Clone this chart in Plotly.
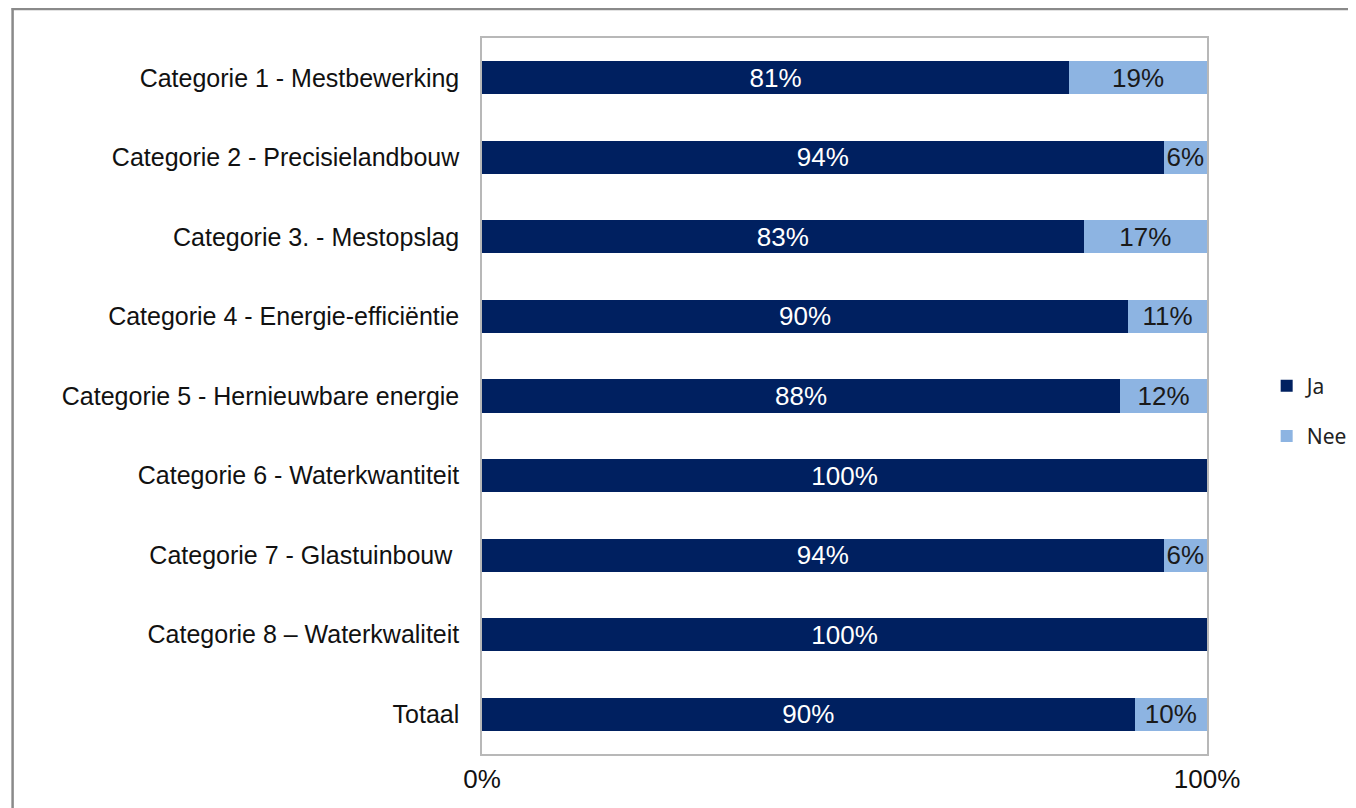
import plotly.graph_objects as go

categories = [
    "Categorie 1 - Mestbewerking",
    "Categorie 2 - Precisielandbouw",
    "Categorie 3. - Mestopslag",
    "Categorie 4 - Energie-efficiëntie",
    "Categorie 5 - Hernieuwbare energie",
    "Categorie 6 - Waterkwantiteit",
    "Categorie 7 - Glastuinbouw ",
    "Categorie 8 – Waterkwaliteit",
    "Totaal",
]
ja = [81, 94, 83, 90, 88, 100, 94, 100, 90]
nee = [19, 6, 17, 11, 12, 0, 6, 0, 10]
x_ticks = [0, 100]
x_tick_labels = ["0%", "100%"]

FONT = "Liberation Sans, Arial, sans-serif"
DARK = "#002060"
LIGHT = "#8DB4E2"

def labels(vals):
    return [f"{v}%" if v > 0 else "" for v in vals]

fig = go.Figure()
fig.add_trace(go.Bar(
    y=categories, x=ja, name="Ja", orientation="h",
    marker=dict(color=DARK, line=dict(width=0)),
    text=labels(ja), textposition="inside", insidetextanchor="middle",
    textangle=0, constraintext="none",
    textfont=dict(family=FONT, size=26, color="white"),
    legendgroup="ja", hoverinfo="skip",
))
fig.add_trace(go.Bar(
    y=categories, x=nee, name="Nee", orientation="h",
    marker=dict(color=LIGHT, line=dict(width=0)),
    text=labels(nee), textposition="inside", insidetextanchor="middle",
    textangle=0, constraintext="none",
    textfont=dict(family=FONT, size=26, color="#1a1a1a"),
    legendgroup="nee", hoverinfo="skip",
))

# target pixel geometry of the plot area (in the screenshot)
L, R, T, B = 481, 1210, 37, 753
W, H = 1356, 808
OFF = 7  # page offset of the figure in the screenshot

def px(xp):
    return (xp - L) / (R - L)

def py(yp):
    return (B - yp) / (B - T)

fig.update_layout(
    width=W, height=H,
    barmode="stack", barnorm="percent", bargap=0.585,
    margin=dict(l=L - OFF, r=W - R + OFF, t=T - OFF, b=H - B + OFF, pad=0),
    plot_bgcolor="white", paper_bgcolor="white",
    font=dict(family=FONT, size=22, color="#111111"),
    showlegend=True,
    legend=dict(
        x=px(1270), y=py(410), xanchor="left", yanchor="middle",
        traceorder="grouped", tracegroupgap=20,
        font=dict(family="Noto Sans, sans-serif", size=21, color="#222222"),
        bgcolor="rgba(0,0,0,0)",
    ),
    xaxis=dict(
        range=[0, 100], tickvals=x_ticks, ticktext=x_tick_labels,
        showgrid=False, zeroline=False,
        showline=True, mirror=True, linecolor="#b8b8b8", linewidth=1.5,
        ticks="", ticklabelstandoff=1,
        tickfont=dict(family=FONT, size=26, color="#111111"),
        fixedrange=True,
    ),
    yaxis=dict(
        autorange="reversed", showgrid=False, zeroline=False,
        showline=True, mirror=True, linecolor="#b8b8b8", linewidth=1.5,
        ticks="", ticklabelstandoff=16,
        tickfont=dict(family=FONT, size=25, color="#111111"),
        fixedrange=True,
    ),
    shapes=[
        dict(type="line", xref="paper", yref="paper",
             x0=px(8), x1=px(1370), y0=py(8), y1=py(8),
             line=dict(color="#8a8a8a", width=2.5)),
        dict(type="line", xref="paper", yref="paper",
             x0=px(9), x1=px(9), y0=py(7), y1=py(820),
             line=dict(color="#8a8a8a", width=2.5)),
    ],
)

fig.write_html("out.html")
